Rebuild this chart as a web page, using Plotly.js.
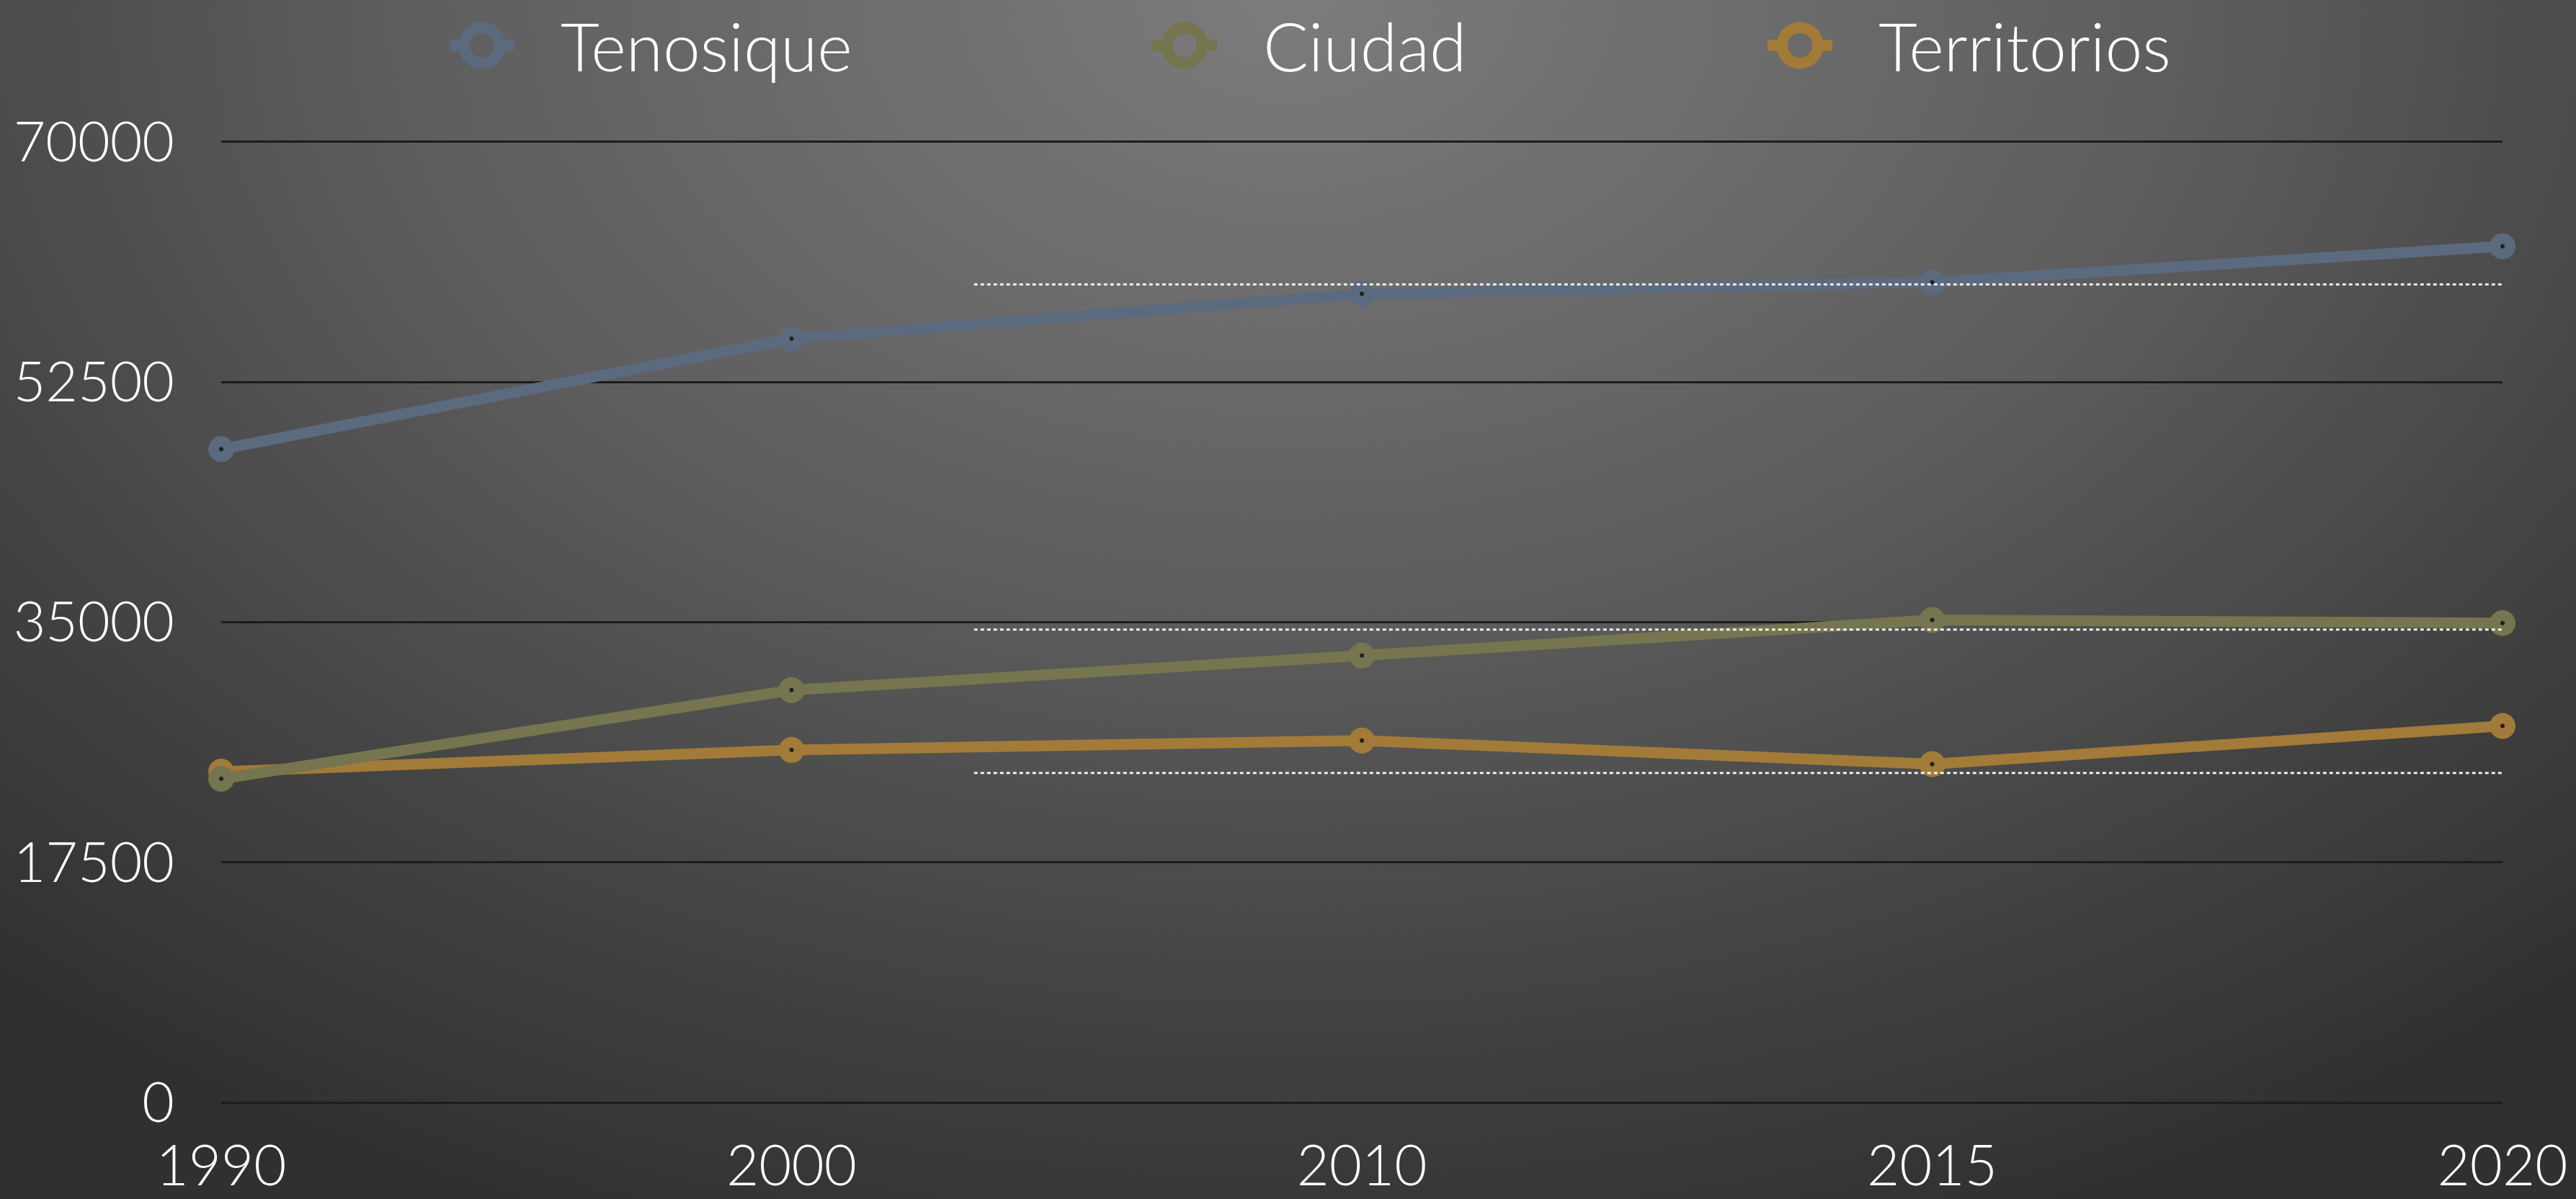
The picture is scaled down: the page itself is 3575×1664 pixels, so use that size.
<!DOCTYPE html>
<html>
<head>
<meta charset="utf-8">
<script src="https://cdn.plot.ly/plotly-3.0.1.min.js"></script>
<style>
  html, body { margin: 0; padding: 0; width: 3575px; height: 1664px; overflow: hidden; }
  body { background: radial-gradient(ellipse 75% 110% at 50% 0%, #7c7c7c 0%, #5e5e5e 45%, #444444 75%, #303030 100%); }
  #chart { width: 3575px; height: 1664px; }
</style>
</head>
<body>
<div id="chart"></div>
<script>
// ---- data ----
const years = ['1990', '2000', '2010', '2015', '2020'];
const tenosique = [47600, 55650, 58920, 59760, 62380];
const ciudad = [23580, 30040, 32560, 35150, 34930];
const territorios = [24100, 25680, 26370, 24650, 27430];
const seriesNames = ['Tenosique', 'Ciudad', 'Territorios'];
const yTickValues = [0, 17500, 35000, 52500, 70000];
const yTickLabels = ['0', '17500', '35000', '52500', '70000'];
const referenceLevels = [59600, 34450, 24000];

// ---- styling ----
const colors = ['#5c6a7f', '#75754f', '#a27b39'];
const seriesValues = [tenosique, ciudad, territorios];
const legendIds = ['legend', 'legend2', 'legend3'];
const legendX = [658, 1633, 2487];
const legendItemWidth = 110;
const font = '"Lato Light", Lato, "Open Sans", sans-serif';

const traces = [];
// draw order: Territorios at bottom, then Ciudad, then Tenosique
[2, 1, 0].forEach(i => {
  traces.push({
    type: 'scatter', mode: 'lines+markers', x: years, y: seriesValues[i],
    name: seriesNames[i], showlegend: false, cliponaxis: false,
    line: { color: colors[i], width: 15 },
    marker: { color: colors[i], size: 36, symbol: 'circle' },
    hoverinfo: 'x+y+name'
  });
  traces.push({
    type: 'scatter', mode: 'markers', x: years, y: seriesValues[i],
    showlegend: false, cliponaxis: false, hoverinfo: 'skip',
    marker: { color: '#202020', size: 6 }
  });
});
// legend entries
[0, 1, 2].forEach(i => {
  traces.push({
    type: 'scatter', mode: 'lines+markers', x: [null], y: [null],
    name: seriesNames[i], legend: legendIds[i], showlegend: true,
    line: { color: colors[i], width: 5 },
    marker: { color: colors[i], size: 16, symbol: 'circle-open', line: { width: 5, color: colors[i] } }
  });
});

const shapes = referenceLevels.map(v => ({
  type: 'line', xref: 'x', yref: 'y', x0: 1.32, x1: 4.045, y0: v, y1: v,
  line: { color: 'rgba(255,255,255,0.9)', width: 3, dash: '5px,4px' }, layer: 'above'
}));

const legendBase = {
  orientation: 'h', xref: 'container', yref: 'container', xanchor: 'left', yanchor: 'middle',
  y: 1 - 63 / 1664, bgcolor: 'rgba(0,0,0,0)', borderwidth: 0, itemwidth: legendItemWidth,
  font: { family: font, size: 93, color: '#ffffff', weight: 300 }
};

const layout = {
  width: 3575, height: 1664,
  paper_bgcolor: 'rgba(0,0,0,0)', plot_bgcolor: 'rgba(0,0,0,0)',
  margin: { l: 307, r: 102, t: 191, b: 134 },
  showlegend: true,
  xaxis: {
    type: 'category', categoryorder: 'array', categoryarray: years,
    range: [0, 4], showgrid: false, zeroline: false, showline: false, ticks: '',
    ticklabelstandoff: 36,
    tickfont: { family: font, size: 78, color: '#ffffff', weight: 300 }
  },
  yaxis: {
    range: [0, 70300], tickmode: 'array', tickvals: yTickValues, ticktext: yTickLabels,
    showgrid: true, gridcolor: '#1c1c1c', gridwidth: 3,
    zeroline: true, zerolinecolor: '#1c1c1c', zerolinewidth: 3,
    showline: false, ticks: '', ticklabelstandoff: 64,
    tickfont: { family: font, size: 77, color: '#ffffff', weight: 300 }
  },
  shapes: shapes
};
legendIds.forEach((id, i) => {
  layout[id] = Object.assign({}, legendBase, { x: legendX[i] / 3575 });
});

// Enlarge the legend ring symbols (Plotly caps legend marker sizes)
function enlargeLegendSymbols(gd) {
  const s = 3.1;
  const cx = legendItemWidth / 2 + 5;      // Plotly's marker centre inside the item
  const target = 11;                       // desired centre, text starts ~110px to the right
  const tf = 'translate(' + target + ',0) scale(' + s + ') translate(' + (-cx) + ',0)';
  const stubs = 'M' + (cx - 14.5) + ',0H' + (cx - 9) + 'M' + (cx + 9) + ',0H' + (cx + 14.5);
  legendIds.forEach(id => {
    gd.querySelectorAll('g.' + id).forEach(lg => {
      lg.querySelectorAll('[clip-path]').forEach(el => el.removeAttribute('clip-path'));
      lg.querySelectorAll('g.legendlines').forEach(gl => {
        gl.querySelectorAll('path').forEach(p => p.setAttribute('d', stubs));
        gl.setAttribute('transform', tf);
      });
      lg.querySelectorAll('g.legendsymbols').forEach(sym => sym.setAttribute('transform', tf));
    });
  });
}

Plotly.newPlot('chart', traces, layout, { displayModeBar: false, staticPlot: true }).then(gd => {
  enlargeLegendSymbols(gd);
  setTimeout(() => enlargeLegendSymbols(gd), 50);
});
</script>
</body>
</html>
